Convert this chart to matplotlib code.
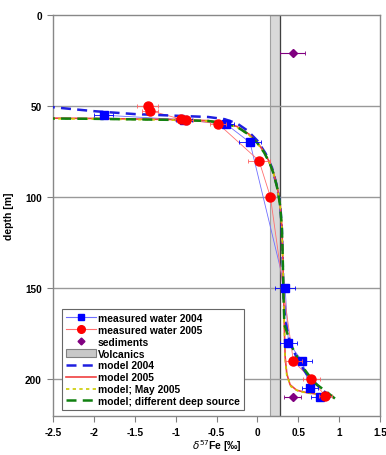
import matplotlib
matplotlib.use("Agg")
import matplotlib.pyplot as plt
from matplotlib.patches import Patch
from matplotlib.lines import Line2D

plt.rcParams['font.family'] = ['Liberation Sans', 'DejaVu Sans']

# measured water 2004
w04_x = [-1.88, -0.90, -0.38, -0.09, 0.34, 0.38, 0.55, 0.64, 0.76]
w04_d = [55, 57.5, 60, 70, 150, 180, 190, 205, 210]
w04_err = [0.12, 0.10, 0.10, 0.14, 0.12, 0.10, 0.12, 0.10, 0.10]

# measured water 2005
w05_x = [-1.34, -1.31, -0.93, -0.87, -0.48, 0.02, 0.16, 0.44, 0.66, 0.83]
w05_d = [50, 52.5, 57.3, 57.6, 59.7, 80, 100, 190, 200, 209]
w05_err = [0.13, 0.10, 0.08, 0.08, 0.10, 0.14, 0.05, 0.10, 0.10, 0.08]

# sediments
sed_x = [0.43, 0.43]
sed_d = [21, 210]
sed_err = [0.15, 0.10]

# volcanics range
volc_lo, volc_hi = 0.15, 0.28

# model 2004
m04_x = [-2.6, -2.0, -1.5, -1.0, -0.6, -0.4, -0.25, -0.12, 0.0, 0.10, 0.18, 0.24, 0.28, 0.30, 0.31, 0.32, 0.34, 0.40, 0.50, 0.60, 0.75, 0.90]
m04_d = [50.2, 52.8, 54.4, 55.3, 56.0, 57.2, 59.5, 63.5, 69, 76, 84, 94, 104, 118, 135, 155, 168, 180, 190, 197, 204, 210]

# model 2005
m05_x = [-2.6, -2.0, -1.0, -0.6, -0.4, -0.25, -0.10, 0.0, 0.08, 0.15, 0.20, 0.25, 0.28, 0.30, 0.31, 0.32, 0.33, 0.34, 0.36, 0.40, 0.48, 0.60, 0.75, 0.90]
m05_d = [56.6, 56.8, 57.4, 58.0, 59.2, 61.2, 65.5, 70, 75, 81, 87, 96, 105, 116, 132, 150, 172, 188, 197, 203, 206, 207.3, 208.3, 209.2]

# model; May 2005
mmay_x = [-2.6, -2.0, -1.0, -0.6, -0.4, -0.25, -0.10, 0.0, 0.08, 0.15, 0.20, 0.25, 0.28, 0.30, 0.31, 0.32, 0.33, 0.34, 0.36, 0.41, 0.50, 0.62, 0.76, 0.89]
mmay_d = [56.9, 57.1, 57.7, 58.3, 59.6, 61.6, 66.0, 70.5, 75.5, 81.5, 87.5, 96.5, 105.5, 117, 133, 151, 173, 189, 198, 204, 206.5, 207.6, 208.4, 209.0]

# model; different deep source
mdeep_x = [-2.6, -2.0, -1.0, -0.6, -0.4, -0.25, -0.10, 0.0, 0.08, 0.15, 0.20, 0.25, 0.28, 0.30, 0.31, 0.32, 0.33, 0.42, 0.55, 0.70, 0.85, 0.96]
mdeep_d = [56.8, 57.0, 57.6, 58.2, 59.4, 61.4, 65.8, 70.3, 75.3, 81.3, 87.3, 96.3, 105.3, 117, 133, 155, 170, 182, 193, 202, 207, 211]

fig = plt.figure(figsize=(3.86, 4.56), dpi=100)
ax = fig.add_axes([53/386, 1 - 416.7/456, 327/386, 400.7/456])

ax.axvspan(volc_lo, volc_hi, facecolor='#d9d9d9', edgecolor='#a0a0a0', lw=0.8, zorder=0.5)
ax.axvline(volc_hi, color='#404040', lw=0.9, zorder=0.6)
for d in [50, 100, 150, 200]:
    ax.axhline(d, color='#999999', lw=1.0, zorder=1)

# measured connecting lines and markers
ax.plot(w04_x, w04_d, color='#6f6fff', lw=0.6, zorder=3)
ax.plot(w05_x, w05_d, color='#ff7070', lw=0.6, zorder=3)

# models
ax.plot(m04_x, m04_d, color='#1f1fe0', lw=1.8, ls=(0, (4, 2.5)), zorder=4)
ax.plot(m05_x, m05_d, color='#f04040', lw=1.2, zorder=4)
ax.plot(mmay_x, mmay_d, color='#cccc00', lw=1.2, ls=(0, (2, 2)), zorder=4)
ax.plot(mdeep_x, mdeep_d, color='#108010', lw=1.8, ls=(0, (4, 2.5)), zorder=4)

ax.errorbar(w04_x, w04_d, xerr=w04_err, fmt='s', color='#0000ff', ms=6.3,
            mec='#0000ff', elinewidth=0.6, capsize=1.5, capthick=0.6, zorder=5)
ax.errorbar(w05_x, w05_d, xerr=w05_err, fmt='o', color='#ff0000', ms=6.5,
            mec='#ff0000', elinewidth=0.6, capsize=1.5, capthick=0.6, ecolor='#ff6060', zorder=6)
ax.errorbar(sed_x, sed_d, xerr=sed_err, fmt='D', color='#800080', ms=4.5,
            elinewidth=0.8, capsize=1.5, capthick=0.6, zorder=6)

ax.set_xlim(-2.5, 1.5)
ax.set_ylim(220, 0)
ax.set_xticks([-2.5, -2, -1.5, -1, -0.5, 0, 0.5, 1, 1.5])
ax.set_xticklabels(['-2.5', '-2', '-1.5', '-1', '-0.5', '0', '0.5', '1', '1.5'])
ax.set_yticks([0, 50, 100, 150, 200])
for lab in ax.get_xticklabels() + ax.get_yticklabels():
    lab.set_fontweight('bold')
    lab.set_fontsize(7.2)
ax.tick_params(direction='out', length=4, width=0.8, colors='#808080', labelcolor='black', pad=4)
for s in ax.spines.values():
    s.set_color('#888888')
    s.set_linewidth(1.0)

ax.set_ylabel('depth [m]', fontsize=7.5, fontweight='bold', labelpad=8)
fig.text(0.5 * (53 + 380) / 386, 1 - 446 / 456, r'$\delta^{57}$Fe [‰]', fontsize=7.5,
         fontweight='bold', ha='center', va='center')

handles = [
    Line2D([], [], color='#6f6fff', lw=0.8, marker='s', mfc='#0000ff', mec='#0000ff', ms=5),
    Line2D([], [], color='#ff7070', lw=0.8, marker='o', mfc='#ff0000', mec='#ff0000', ms=5.5),
    Line2D([], [], ls='none', marker='D', color='#800080', ms=3.5),
    Patch(facecolor='#c8c8c8', edgecolor='#808080', lw=0.8),
    Line2D([], [], color='#1f1fe0', lw=1.8, ls=(0, (4, 2.5))),
    Line2D([], [], color='#f04040', lw=1.2),
    Line2D([], [], color='#cccc00', lw=1.2, ls=(0, (2, 2))),
    Line2D([], [], color='#108010', lw=1.8, ls=(0, (4, 2.5))),
]
labels = ['measured water 2004', 'measured water 2005', 'sediments', 'Volcanics',
          'model 2004', 'model 2005', 'model; May 2005', 'model; different deep source']
leg = ax.legend(handles, labels, loc='lower left', bbox_to_anchor=(0.027, 0.014),
                borderaxespad=0, frameon=True, fancybox=False, framealpha=1,
                edgecolor='#666666', prop={'size': 7.4, 'weight': 'bold'},
                handlelength=2.9, handletextpad=0.2, labelspacing=0.18, borderpad=0.4)
leg.get_frame().set_linewidth(0.8)
leg.set_zorder(10)

fig.savefig('out.png', dpi=100)
